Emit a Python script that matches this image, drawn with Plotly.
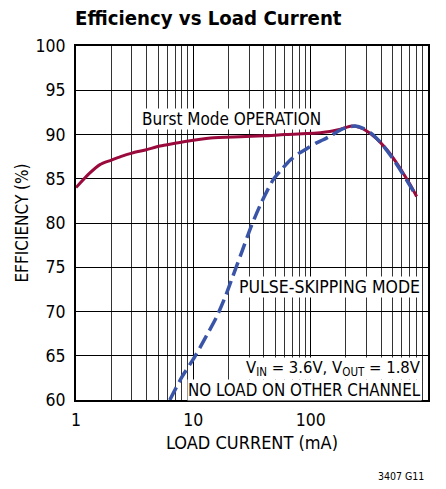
import plotly.graph_objects as go

# Data
burst_x = [1, 1.3, 1.6, 2, 2.4, 3, 3.9, 5.2, 7, 8.5, 14, 25, 40, 60, 93, 146, 180, 224, 260, 300, 360, 445, 520, 617, 700, 800]
burst_y = [84.0, 85.6, 86.6, 87.1, 87.5, 87.9, 88.25, 88.7, 89.0, 89.2, 89.6, 89.75, 89.85, 90.0, 90.1, 90.35, 90.6, 90.95, 90.8, 90.4, 89.6, 88.3, 87.1, 85.6, 84.4, 83.0]

skip_x = [6.3, 8, 10.3, 13, 15.8, 18.5, 21.2, 26, 31.5, 38.3, 48, 57, 66.7, 80, 92.6, 110, 128, 150, 178, 210, 240, 280, 330, 400, 500, 620, 800]
skip_y = [60, 62.6, 64.9, 67.3, 69.4, 71.5, 73.6, 76.8, 79.8, 82.4, 84.9, 86.1, 87.1, 87.9, 88.4, 89.0, 89.4, 89.9, 90.5, 90.85, 90.95, 90.7, 90.1, 89.0, 87.3, 85.4, 83.0]

x_ticks = [1, 10, 100, 1000]
x_tick_labels = ["1", "10", "100", "1000"]
y_ticks = [60, 65, 70, 75, 80, 85, 90, 95, 100]

FONT = "DejaVu Sans Condensed, Liberation Sans Narrow, sans-serif"

fig = go.Figure()
fig.add_trace(go.Scatter(x=burst_x, y=burst_y, mode="lines",
                         line=dict(color="#9A0A3C", width=3, shape="spline", smoothing=0.7),
                         showlegend=False))
fig.add_trace(go.Scatter(x=skip_x, y=skip_y, mode="lines",
                         line=dict(color="#3A55A8", width=3.5, shape="spline", smoothing=0.7, dash="14px,6px"),
                         showlegend=False))

fig.update_layout(
    width=446, height=489,
    margin=dict(l=76, r=18, t=46, b=89),
    paper_bgcolor="white", plot_bgcolor="white",
    font=dict(family=FONT, size=17, color="black"),
    title=dict(text="<b>Efficiency vs Load Current</b>", xref="container", x=75/446, xanchor="left",
               yref="container", y=1 - 18/489, yanchor="middle", automargin=False,
               font=dict(family=FONT, size=20.2, color="black")),
)
fig.update_xaxes(type="log", range=[0, 3], tickvals=x_ticks, ticktext=x_tick_labels,
                 showgrid=True, gridcolor="black", gridwidth=1,
                 minor=dict(dtick="D1", showgrid=True, gridcolor="#333333", gridwidth=1, ticks=""),
                 showline=True, linecolor="black", linewidth=2, mirror=True,
                 ticks="", zeroline=False, automargin=False, ticklabelstandoff=3,
                 title=dict(text="LOAD CURRENT (mA)", standoff=7, font=dict(size=18)),
                 tickfont=dict(size=17.5))
fig.update_yaxes(range=[60, 100], tickvals=y_ticks,
                 showgrid=True, gridcolor="black", gridwidth=1,
                 showline=True, linecolor="black", linewidth=2, mirror=True,
                 ticks="", zeroline=False, automargin=False, ticklabelstandoff=5,
                 title=dict(text="EFFICIENCY (%)", standoff=3, font=dict(size=17)),
                 tickfont=dict(size=17.5))

ann = dict(xref="paper", yref="paper", showarrow=False, bgcolor="white", borderpad=0,
           font=dict(family=FONT, size=17.5, color="black"))
fig.add_annotation(text="Burst Mode OPERATION", x=(231-76)/352, y=1-(119-46)/354,
                   xanchor="center", yanchor="middle",
                   **{**ann, "font": dict(family=FONT, size=17, color="black")})
fig.add_annotation(text="PULSE-SKIPPING MODE", x=(421-76)/352, y=1-(287-46)/354,
                   xanchor="right", yanchor="middle", **ann)
fig.add_annotation(text="V<sub>IN</sub> = 3.6V, V<sub>OUT</sub> = 1.8V", x=(422-76)/352, y=1-(368-46)/354,
                   xanchor="right", yanchor="middle",
                   **{**ann, "font": dict(family=FONT, size=16.5, color="black")})
fig.add_annotation(text="NO LOAD ON OTHER CHANNEL", x=(422-76)/352, y=1-(389.5-46)/354,
                   xanchor="right", yanchor="middle",
                   **{**ann, "font": dict(family=FONT, size=16.8, color="black")})
fig.add_annotation(text="3407 G11", xref="paper", yref="paper", x=(426-76)/352, y=-(476-400)/354,
                   xanchor="right", yanchor="middle", showarrow=False,
                   font=dict(family=FONT, size=10.5, color="black"))

fig.write_html("out.html", config={"displayModeBar": False},
               post_script="document.body.style.margin='0';")
